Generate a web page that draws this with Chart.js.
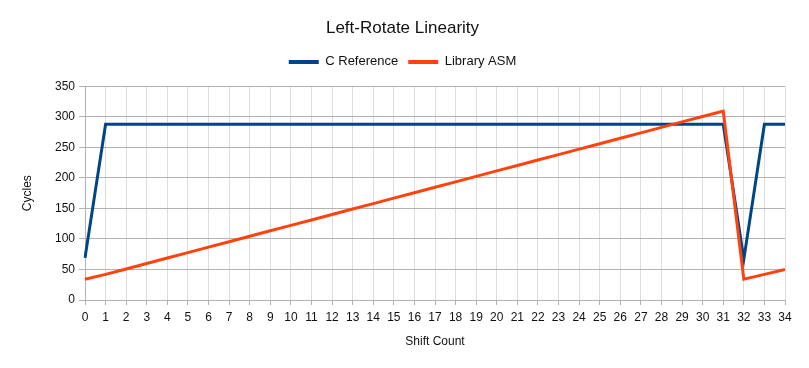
<!DOCTYPE html>
<html>
<head>
<meta charset="utf-8">
<script src="https://cdn.jsdelivr.net/npm/chart.js@4"></script>
<style>
    html, body { margin: 0; padding: 0; background: #fff; }
    #wrap { width: 809px; height: 368px; position: relative; }
</style>
</head>
<body>
<div id="wrap"><canvas id="chart"></canvas></div>
<script>
var shiftCounts = ["0","1","2","3","4","5","6","7","8","9","10","11","12","13","14","15","16","17",
    "18","19","20","21","22","23","24","25","26","27","28","29","30","31","32","33","34"];

var cReference = [69, 288, 288, 288, 288, 288, 288, 288, 288, 288, 288, 288, 288, 288, 288, 288, 288, 288,
    288, 288, 288, 288, 288, 288, 288, 288, 288, 288, 288, 288, 288, 288, 67, 288, 288];

var libraryAsm = [34, 42, 50.9, 59.8, 68.8, 77.7, 86.6, 95.5, 104.4, 113.4, 122.3, 131.2, 140.1, 149, 158,
    166.9, 175.8, 184.7, 193.6, 202.6, 211.5, 220.4, 229.3, 238.2, 247.2, 256.1, 265, 273.9, 282.8,
    291.8, 300.7, 309.6, 34, 42, 50];

var yTicks = [0, 50, 100, 150, 200, 250, 300, 350];

Chart.defaults.font.family = "'Liberation Sans', Arial, sans-serif";
Chart.defaults.color = "#111";

// extra room under the legend, before the plot
var legendGap = {
    id: "legendGap",
    beforeInit: function (chart) {
        var fit = chart.legend.fit;
        chart.legend.fit = function () {
            fit.bind(chart.legend)();
            this.height += 8;
        };
    }
};

var ctx = document.getElementById("chart").getContext("2d");
new Chart(ctx, {
    type: "line",
    data: {
        labels: shiftCounts,
        datasets: [
            {
                label: "C Reference",
                data: cReference,
                borderColor: "#004586",
                backgroundColor: "#004586",
                borderWidth: 3,
                pointRadius: 0,
                tension: 0,
                order: 2
            },
            {
                label: "Library ASM",
                data: libraryAsm,
                borderColor: "#ff420e",
                backgroundColor: "#ff420e",
                borderWidth: 3,
                pointRadius: 0,
                tension: 0,
                order: 1
            }
        ]
    },
    plugins: [legendGap],
    options: {
        responsive: true,
        maintainAspectRatio: false,
        animation: false,
        layout: { padding: { top: 0, left: 20, right: 24, bottom: 15 } },
        plugins: {
            title: {
                display: true,
                text: "Left-Rotate Linearity",
                font: { size: 17, weight: "normal" },
                padding: { top: 18, bottom: 7 }
            },
            legend: {
                labels: {
                    boxWidth: 30,
                    boxHeight: 4,
                    font: { size: 13 },
                    padding: 10,
                    generateLabels: function (chart) {
                        var items = Chart.defaults.plugins.legend.labels.generateLabels(chart);
                        items.sort(function (a, b) { return a.datasetIndex - b.datasetIndex; });
                        items.forEach(function (it) { it.lineWidth = 0; });
                        return items;
                    }
                }
            },
            tooltip: { enabled: false }
        },
        scales: {
            x: {
                offset: false,
                grid: { color: "#dddddd", tickColor: "#b3b3b3", tickLength: 5 },
                border: { color: "#b3b3b3" },
                ticks: { autoSkip: false, maxRotation: 0, font: { size: 12 }, padding: 5 },
                title: { display: true, text: "Shift Count", font: { size: 12 }, padding: { top: 4, bottom: 4 } },
                afterFit: function (scale) { scale.height = 53; }
            },
            y: {
                min: 0,
                max: 350,
                afterBuildTicks: function (scale) {
                    scale.ticks = yTicks.map(function (v) { return { value: v }; });
                },
                grid: { color: "#b3b3b3", tickColor: "#b3b3b3", tickLength: 6 },
                border: { color: "#b3b3b3" },
                ticks: { font: { size: 12 }, padding: 4 },
                title: { display: true, text: "Cycles", font: { size: 12 }, padding: { top: 0, bottom: 0 } },
                afterFit: function (scale) { scale.width = 65; }
            }
        }
    }
});
</script>
</body>
</html>
